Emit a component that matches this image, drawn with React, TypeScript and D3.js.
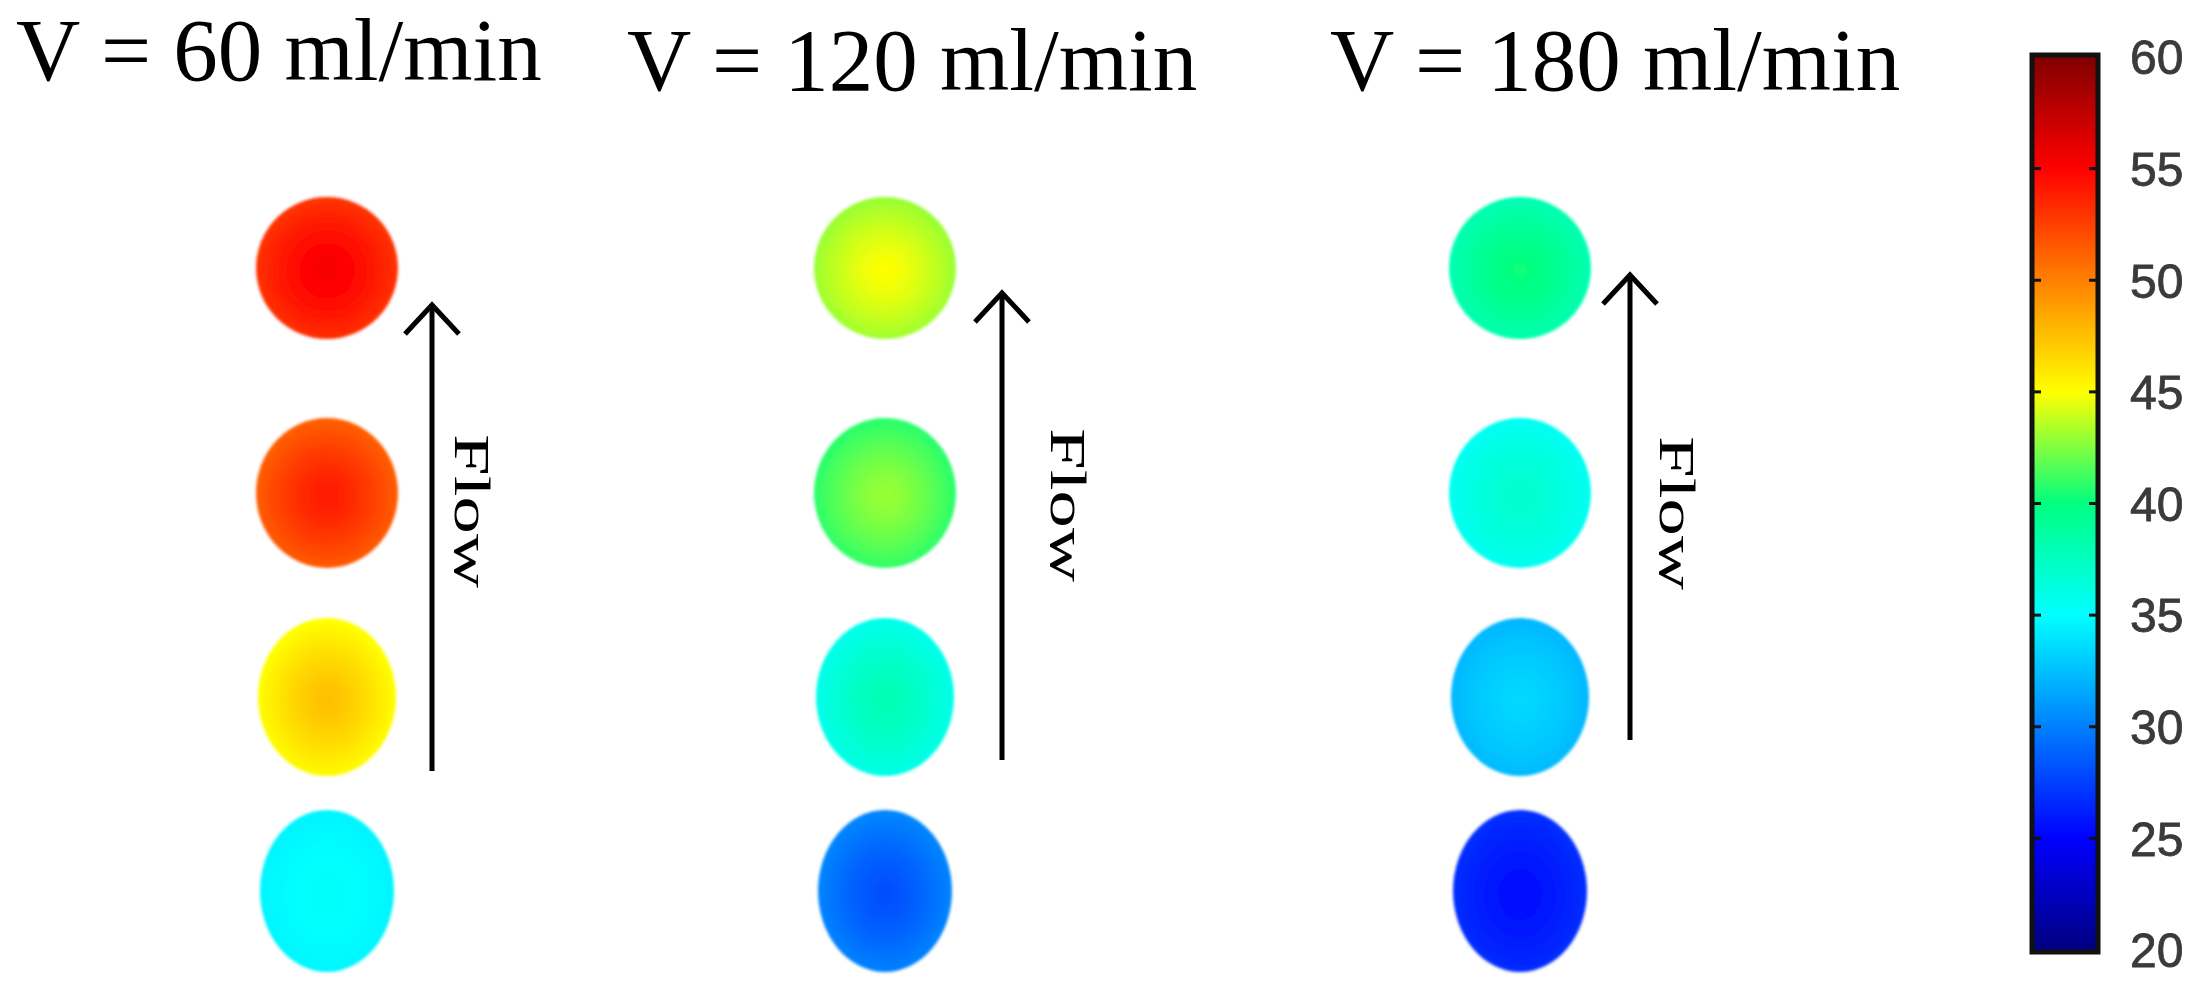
import React from 'react';
import * as d3 from 'd3';

// ---------------- DATA ----------------
const flowRates = [60, 120, 180]; // ml/min
const titles = ['V = 60 ml/min', 'V = 120 ml/min', 'V = 180 ml/min'];
const sensorRows = [1, 2, 3, 4]; // top -> bottom
// temperature (°C) at spot centre and rim, rows top -> bottom
const centerTemp60 = [55.4, 54.0, 47.5, 35.2];
const edgeTemp60 = [53.0, 51.3, 45.0, 34.6];
const centerTemp120 = [45.0, 43.0, 38.0, 28.0];
const edgeTemp120 = [43.0, 40.8, 35.8, 30.2];
const centerTemp180 = [40.2, 37.0, 33.5, 25.4];
const edgeTemp180 = [38.0, 35.5, 32.2, 26.8];
const colorbarTicks = [20, 25, 30, 35, 40, 45, 50, 55, 60];
const cmapValues = [20, 25, 30, 35, 40, 45, 50, 55, 60];
const cmapColors = ['#000080', '#0000ff', '#0080ff', '#00ffff', '#00ff80', '#ffff00', '#ff8000', '#ff0000', '#800000'];

const centerTemps = [centerTemp60, centerTemp120, centerTemp180];
const edgeTemps = [edgeTemp60, edgeTemp120, edgeTemp180];

// ---------------- LAYOUT ----------------
const W = 2203;
const H = 998;
const panelX = [327, 885, 1520];
const rowY = [268, 493, 697, 891];
const spotRx = [71, 71, 69, 67];
const spotRy = [71, 75, 79, 81];
const arrowOffset = [105, 117, 110];
const arrowTop = [305, 293, 275];
const arrowBottom = [771, 760, 740];
const flowLabelOffset = [128, 166, 140];
const flowLabelY = [434, 428, 436];
const titleX = [16, 627, 1330];
const titleY = [80, 90, 90];
const cb = { x0: 2032, x1: 2098, yTop: 57, yBottom: 950, labelX: 2130 };

const xScale = d3.scaleOrdinal<number, number>().domain(flowRates).range(panelX);
const yScale = d3.scaleOrdinal<number, number>().domain(sensorRows).range(rowY);
const color = d3.scaleLinear<string>().domain(cmapValues).range(cmapColors).interpolate(d3.interpolateRgb).clamp(true);
const cbScale = d3.scaleLinear().domain([20, 60]).range([cb.yBottom, cb.yTop]);

const serif = '"Liberation Serif", "Times New Roman", serif';
const sans = '"Liberation Sans", Arial, Helvetica, sans-serif';

export default function App() {
  const gradStops = d3.range(0, 1.0001, 0.05);
  const cbStops = d3.range(60, 19.99, -0.5);
  return (
    <div style={{ position: 'absolute', left: 0, top: 0, background: '#fff' }}>
      <svg width={W} height={H} viewBox={`0 0 ${W} ${H}`} style={{ display: 'block', background: '#fff' }}>
        <defs>
          <filter id="soft" x="-10%" y="-10%" width="120%" height="120%">
            <feGaussianBlur stdDeviation="1.4" />
          </filter>
          <filter id="softText" x="-10%" y="-10%" width="120%" height="120%">
            <feGaussianBlur stdDeviation="0.6" />
          </filter>
          {flowRates.map((f, ci) =>
            sensorRows.map((r, ri) => {
              const c0 = centerTemps[ci][ri];
              const c1 = edgeTemps[ci][ri];
              return (
                <radialGradient key={`g${ci}${ri}`} id={`g${ci}-${ri}`} cx="50%" cy="52%" r="50%">
                  {gradStops.map((o) => (
                    <stop key={o} offset={`${o * 100}%`} stopColor={color(c0 + (c1 - c0) * Math.pow(o, 1.4))} />
                  ))}
                </radialGradient>
              );
            })
          )}
          <linearGradient id="cbar" x1="0" y1="0" x2="0" y2="1">
            {cbStops.map((v) => (
              <stop key={v} offset={`${((60 - v) / 40) * 100}%`} stopColor={color(v)} />
            ))}
          </linearGradient>
        </defs>

        {/* titles */}
        {titles.map((t, i) => (
          <text key={t} x={titleX[i]} y={titleY[i]} fontFamily={serif} fontSize={89} fill="#000">
            {t}
          </text>
        ))}

        {/* spots */}
        <g filter="url(#soft)">
          {flowRates.map((f, ci) =>
            sensorRows.map((r, ri) => (
              <ellipse
                key={`${f}-${r}`}
                cx={xScale(f)}
                cy={yScale(r)}
                rx={spotRx[ri]}
                ry={spotRy[ri]}
                fill={`url(#g${ci}-${ri})`}
              />
            ))
          )}
        </g>

        {/* flow arrows */}
        {flowRates.map((f, ci) => {
          const ax = xScale(f) + arrowOffset[ci];
          const t = arrowTop[ci];
          return (
            <g key={`a${f}`} stroke="#000" strokeWidth={5} fill="none">
              <line x1={ax} y1={arrowBottom[ci]} x2={ax} y2={t + 2} />
              <path d={`M${ax - 27},${t + 29} L${ax},${t} L${ax + 27},${t + 29}`} strokeLinejoin="miter" />
            </g>
          );
        })}
        {flowRates.map((f, ci) => (
          <text
            key={`fl${f}`}
            transform={`translate(${xScale(f) + flowLabelOffset[ci]},${flowLabelY[ci]}) rotate(90)`}
            fontFamily={serif}
            fontSize={50}
            textLength={154}
            lengthAdjust="spacingAndGlyphs"
            fill="#000"
          >
            Flow
          </text>
        ))}

        {/* colorbar */}
        <rect x={cb.x0} y={cbScale(60)} width={cb.x1 - cb.x0} height={cbScale(20) - cbScale(60)} fill="url(#cbar)" />
        <rect
          x={cb.x0}
          y={cbScale(60) - 2}
          width={cb.x1 - cb.x0}
          height={cbScale(20) - cbScale(60) + 4}
          fill="none"
          stroke="#111"
          strokeWidth={5}
        />
        {colorbarTicks
          .filter((v) => v > 20 && v < 60)
          .map((v) => (
            <g key={`t${v}`} stroke="#111" strokeWidth={3}>
              <line x1={cb.x0} x2={cb.x0 + 9} y1={cbScale(v)} y2={cbScale(v)} />
              <line x1={cb.x1 - 9} x2={cb.x1} y1={cbScale(v)} y2={cbScale(v)} />
            </g>
          ))}
        <g filter="url(#softText)">
          {colorbarTicks.map((v) => (
            <text
              key={`l${v}`}
              x={cb.labelX}
              y={cbScale(v)}
              dy="0.36em"
              fontFamily={sans}
              fontSize={48}
              fill="#3a3a3a"
              stroke="#3a3a3a"
              strokeWidth={0.8}
            >
              {v}
            </text>
          ))}
        </g>
      </svg>
    </div>
  );
}
